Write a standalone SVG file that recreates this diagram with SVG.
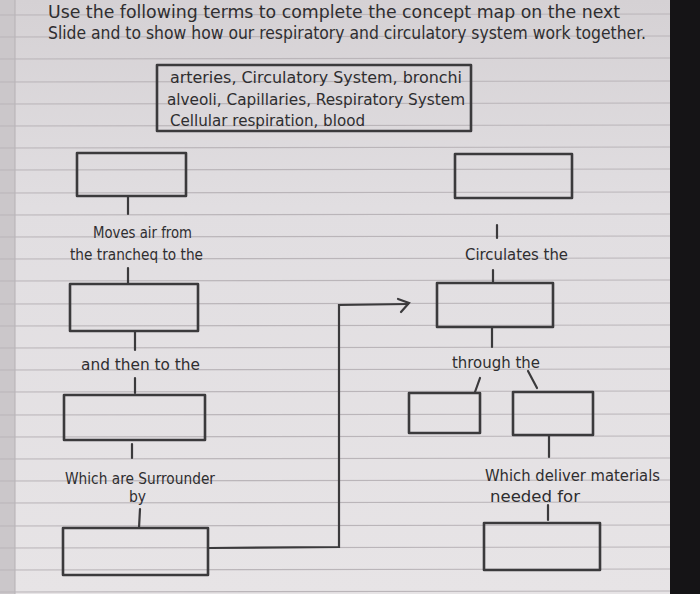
<svg xmlns="http://www.w3.org/2000/svg" width="700" height="594" viewBox="0 0 700 594">
<defs>
<style>
.rule{stroke:#bab5b9;stroke-width:1.2}
.box{fill:none;stroke:#3b3a3c;stroke-width:2.6;stroke-linejoin:round}
.ink{fill:none;stroke:#3b3a3c;stroke-width:2.2;stroke-linecap:round}
.hw{font-family:"DejaVu Sans Condensed","Liberation Sans Narrow","Liberation Sans",sans-serif;fill:#2f2e30}
.t1{font-size:17px}
.t2{font-size:16px}
.t3{font-size:15.5px}
</style>
<linearGradient id="paper" x1="0" y1="0" x2="0" y2="1">
<stop offset="0" stop-color="#d5d1d4"/>
<stop offset="0.35" stop-color="#e1dee1"/>
<stop offset="1" stop-color="#e7e4e6"/>
</linearGradient>
</defs>
<rect x="0" y="0" width="700" height="594" fill="url(#paper)"/>
<rect x="0" y="0" width="15" height="594" fill="#cbc7ca"/>
<line x1="15" y1="0" x2="15" y2="594" stroke="#b5b0b4" stroke-width="1"/>
<rect x="670" y="0" width="30" height="594" fill="#151416"/>
<g id="ruling">
<line class="rule" x1="0" y1="15" x2="670" y2="14"/>
<line class="rule" x1="0" y1="37" x2="670" y2="36"/>
<line class="rule" x1="0" y1="59" x2="670" y2="58"/>
<line class="rule" x1="0" y1="82" x2="670" y2="81"/>
<line class="rule" x1="0" y1="104" x2="670" y2="103"/>
<line class="rule" x1="0" y1="126" x2="670" y2="125"/>
<line class="rule" x1="0" y1="148" x2="670" y2="147"/>
<line class="rule" x1="0" y1="170" x2="670" y2="169"/>
<line class="rule" x1="0" y1="193" x2="670" y2="192"/>
<line class="rule" x1="0" y1="215" x2="670" y2="214"/>
<line class="rule" x1="0" y1="237" x2="670" y2="236"/>
<line class="rule" x1="0" y1="259" x2="670" y2="258"/>
<line class="rule" x1="0" y1="281" x2="670" y2="280"/>
<line class="rule" x1="0" y1="304" x2="670" y2="303"/>
<line class="rule" x1="0" y1="326" x2="670" y2="325"/>
<line class="rule" x1="0" y1="348" x2="670" y2="347"/>
<line class="rule" x1="0" y1="370" x2="670" y2="369"/>
<line class="rule" x1="0" y1="392" x2="670" y2="391"/>
<line class="rule" x1="0" y1="415" x2="670" y2="414"/>
<line class="rule" x1="0" y1="437" x2="670" y2="436"/>
<line class="rule" x1="0" y1="459" x2="670" y2="458"/>
<line class="rule" x1="0" y1="481" x2="670" y2="480"/>
<line class="rule" x1="0" y1="503" x2="670" y2="502"/>
<line class="rule" x1="0" y1="526" x2="670" y2="525"/>
<line class="rule" x1="0" y1="548" x2="670" y2="547"/>
<line class="rule" x1="0" y1="570" x2="670" y2="569"/>
<line class="rule" x1="0" y1="592" x2="670" y2="591"/>
</g>
<g id="instructions">
<text class="hw t1" x="48" y="18" textLength="572" lengthAdjust="spacingAndGlyphs">Use the following terms to complete the concept map on the next</text>
<text class="hw t1" x="48" y="39" textLength="598" lengthAdjust="spacingAndGlyphs">Slide and to show how our respiratory and circulatory system work together.</text>
</g>
<g id="word-bank">
<rect class="box" x="157" y="65" width="314" height="66"/>
<text class="hw t2" x="170" y="83" textLength="292" lengthAdjust="spacingAndGlyphs">arteries, Circulatory System, bronchi</text>
<text class="hw t2" x="167" y="105" textLength="298" lengthAdjust="spacingAndGlyphs">alveoli, Capillaries, Respiratory System</text>
<text class="hw t2" x="170" y="126" textLength="195" lengthAdjust="spacingAndGlyphs">Cellular respiration, blood</text>
</g>
<g id="connectors">
<line class="ink" x1="128" y1="197" x2="128" y2="214"/>
<line class="ink" x1="128" y1="268" x2="128" y2="284"/>
<line class="ink" x1="135" y1="332" x2="135" y2="350"/>
<line class="ink" x1="135" y1="378" x2="135" y2="393"/>
<line class="ink" x1="132" y1="444" x2="132" y2="458"/>
<path class="ink" d="M140 509 L139 528"/>
<path class="ink" d="M209 548 L339 547 L339 305 L408 304"/>
<path class="ink" d="M398 299 L409 303 L401 312"/>
<line class="ink" x1="497" y1="225" x2="497" y2="238"/>
<line class="ink" x1="493" y1="270" x2="493" y2="283"/>
<line class="ink" x1="492" y1="328" x2="492" y2="347"/>
<line class="ink" x1="475" y1="392" x2="480" y2="378"/>
<line class="ink" x1="528" y1="371" x2="537" y2="388"/>
<line class="ink" x1="549" y1="436" x2="549" y2="457"/>
<line class="ink" x1="548" y1="505" x2="548" y2="520"/>
</g>
<g id="node-respiratory">
<rect class="box" x="77" y="153" width="109" height="43"/>
</g>
<g id="label-moves-air">
<text class="hw t3" x="93" y="238" textLength="99" lengthAdjust="spacingAndGlyphs">Moves air from</text>
<text class="hw t3" x="70" y="260" textLength="133" lengthAdjust="spacingAndGlyphs">the trancheq to the</text>
</g>
<g id="node-bronchi">
<rect class="box" x="70" y="284" width="128" height="47"/>
</g>
<g id="label-then-to">
<text class="hw t3" x="81" y="370" textLength="119" lengthAdjust="spacingAndGlyphs">and then to the</text>
</g>
<g id="node-alveoli">
<rect class="box" x="64" y="395" width="141" height="45"/>
</g>
<g id="label-surrounded">
<text class="hw t3" x="65" y="484" textLength="150" lengthAdjust="spacingAndGlyphs">Which are Surrounder</text>
<text class="hw t3" x="129" y="502">by</text>
</g>
<g id="node-capillaries">
<rect class="box" x="63" y="528" width="145" height="47"/>
</g>
<g id="node-circulatory">
<rect class="box" x="455" y="154" width="117" height="44"/>
</g>
<g id="label-circulates">
<text class="hw t3" x="465" y="260" textLength="103" lengthAdjust="spacingAndGlyphs">Circulates the</text>
</g>
<g id="node-blood">
<rect class="box" x="437" y="283" width="116" height="44"/>
</g>
<g id="label-through">
<text class="hw t3" x="452" y="368" textLength="88" lengthAdjust="spacingAndGlyphs">through the</text>
</g>
<g id="node-arteries">
<rect class="box" x="409" y="393" width="71" height="40"/>
</g>
<g id="node-vessels">
<rect class="box" x="513" y="392" width="80" height="43"/>
</g>
<g id="label-deliver">
<text class="hw t3" x="485" y="481" textLength="175" lengthAdjust="spacingAndGlyphs">Which deliver materials</text>
<text class="hw t3" x="490" y="502" textLength="90" lengthAdjust="spacingAndGlyphs">needed for</text>
</g>
<g id="node-cellular">
<rect class="box" x="484" y="523" width="116" height="47"/>
</g>
</svg>
